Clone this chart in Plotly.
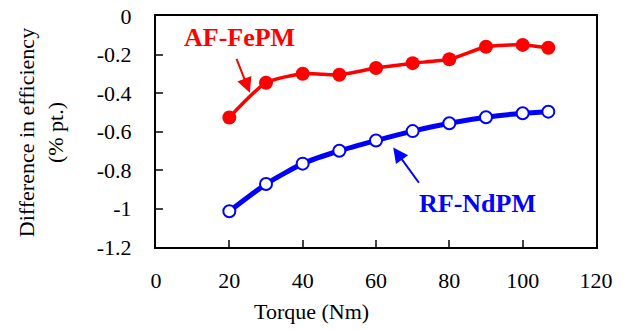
import plotly.graph_objects as go

torque = [20, 30, 40, 50, 60, 70, 80, 90, 100, 107]
af_fepm = [-0.527, -0.347, -0.30, -0.305, -0.27, -0.245, -0.225, -0.16, -0.15, -0.165]
rf_ndpm = [-1.014, -0.873, -0.767, -0.70, -0.647, -0.598, -0.557, -0.526, -0.505, -0.497]

x_ticks = [0, 20, 40, 60, 80, 100, 120]
y_ticks = [0, -0.2, -0.4, -0.6, -0.8, -1, -1.2]
y_tick_text = ["0", "-0.2", "-0.4", "-0.6", "-0.8", "-1", "-1.2"]

FONT = "'Liberation Serif', 'Times New Roman', Times, 'DejaVu Serif', serif"
RED = "#ff0000"
BLUE = "#0000ff"

fig = go.Figure()
fig.add_trace(go.Scatter(
    x=torque, y=rf_ndpm, mode="lines+markers", name="RF-NdPM",
    line=dict(color=BLUE, width=5, shape="spline", smoothing=0.6),
    marker=dict(symbol="circle", size=12, color="white", line=dict(color=BLUE, width=2)),
))
fig.add_trace(go.Scatter(
    x=torque, y=af_fepm, mode="lines+markers", name="AF-FePM",
    line=dict(color=RED, width=3.5, shape="spline", smoothing=0.6),
    marker=dict(symbol="circle", size=14, color=RED),
))

# arrows: head at (x, y), tail at (ax, ay)
fig.add_annotation(x=25.6, y=-0.399, ax=21.8, ay=-0.215, xref="x", yref="y", axref="x", ayref="y",
                   text="", showarrow=True, arrowhead=2, arrowsize=1.5, arrowwidth=2, arrowcolor=RED,
                   standoff=0, startstandoff=0)
fig.add_annotation(x=64.7, y=-0.683, ax=72.0, ay=-0.874, xref="x", yref="y", axref="x", ayref="y",
                   text="", showarrow=True, arrowhead=2, arrowsize=1.5, arrowwidth=2, arrowcolor=BLUE,
                   standoff=0, startstandoff=0)
fig.add_annotation(x=22.9, y=-0.112, xref="x", yref="y", text="<b>AF-FePM</b>", showarrow=False,
                   font=dict(family=FONT, size=26, color=RED))
fig.add_annotation(x=87.7, y=-0.973, xref="x", yref="y", text="<b>RF-NdPM</b>", showarrow=False,
                   font=dict(family=FONT, size=26, color=BLUE))

# axis titles
fig.add_annotation(x=42.5, xref="x", y=-0.281, yref="paper", text="Torque (Nm)", showarrow=False,
                   font=dict(family=FONT, size=22, color="black"), xanchor="center", yanchor="middle")
fig.add_annotation(x=-0.261, xref="paper", y=0.4935, yref="paper",
                   text="Difference in efficiency<br>(% pt.)", showarrow=False, textangle=-90,
                   font=dict(family=FONT, size=22, color="black"), xanchor="center", yanchor="middle")

fig.update_layout(
    width=631, height=330,
    margin=dict(l=156, r=35, t=16, b=83),
    paper_bgcolor="white", plot_bgcolor="white",
    showlegend=False,
    font=dict(family=FONT, size=22, color="black"),
    xaxis=dict(range=[0, 120], tickvals=x_ticks, ticks="inside", ticklen=7, tickwidth=2,
               showline=True, linecolor="black", linewidth=2, mirror=True, showgrid=False,
               zeroline=False, automargin=False, ticklabelstandoff=13,
               tickfont=dict(family=FONT, size=22)),
    yaxis=dict(range=[-1.2, 0], tickvals=y_ticks, ticktext=y_tick_text, ticks="inside", ticklen=7,
               tickwidth=2, showline=True, linecolor="black", linewidth=2, mirror=True,
               showgrid=False, zeroline=False, automargin=False, ticklabelstandoff=18,
               tickfont=dict(family=FONT, size=22)),
)

fig.write_html("out.html", config={"displayModeBar": False},
               post_script="document.body.style.margin='0';document.body.style.overflow='hidden';")
